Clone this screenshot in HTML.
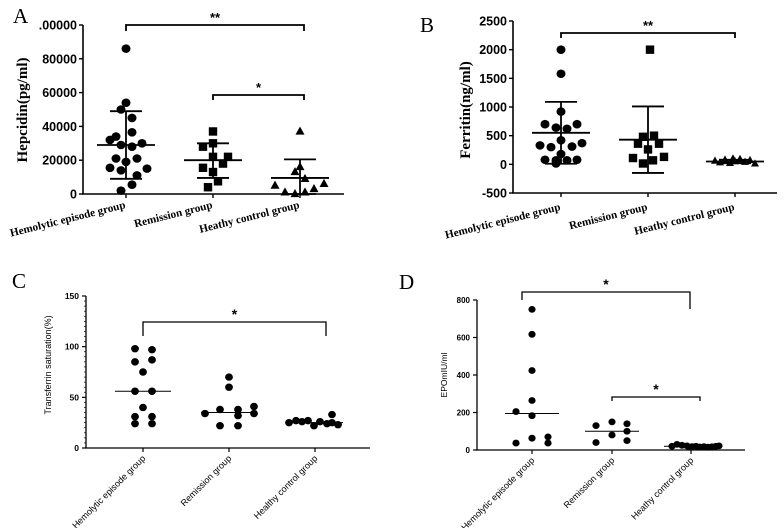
<!DOCTYPE html>
<html><head><meta charset="utf-8"><style>
body{margin:0;background:#fff}
svg{display:block}
.serif{font-family:"Liberation Serif",serif}
.sans{font-family:"Liberation Sans",sans-serif}
</style></head><body>
<svg id="fig" width="783" height="528" viewBox="0 0 783 528" xmlns="http://www.w3.org/2000/svg"></svg>
<script>
const NS='http://www.w3.org/2000/svg';
const svg=document.getElementById('fig');
function el(tag,attrs,parent,text){const e=document.createElementNS(NS,tag);for(const k in attrs)e.setAttribute(k,attrs[k]);if(text!==undefined)e.textContent=text;(parent||svg).appendChild(e);return e;}

// ---- Panel A data ----
const catsA=['Hemolytic episode group','Remission group','Heathy control group'];
const ticksA=[0,20000,40000,60000,80000,100000];
const tickLabelsA=['0','20000','40000','60000','80000','.00000'];
const aHemVals=[86000,54000,50000,45000,36500,32000,34000,29000,28000,30000,21000,21000,19000,15500,14000,15000,11000,5500,2000];
const aHemJit=[0,0,-5,6,6,-16,-10,-5,6,16,-10,11,0,-16,-5,21,11,6,-5];
const aRemVals=[37000,28000,30000,22000,22000,18000,15500,13000,7500,4000];
const aRemJit=[0,-10,0,15,0,10,-10,0,5,-5];
const aHeaVals=[37000,16000,13000,9000,5000,6000,3000,1000,0,1000];
const aHeaJit=[0,0,-5,5,-25,24,14,-15,-5,5];
const aMeans=[29000,20000,9500];
const aSdHi=[49000,30000,20500];
const aSdLo=[9000,9500,0];

// ---- Panel B data ----
const ticksB=[-500,0,500,1000,1500,2000,2500];
const bHemVals=[2000,1580,920,700,700,640,620,420,330,300,310,370,180,80,70,70,80,15];
const bHemJit=[0,0,0,-16,16,-5,6,0,-21,-10,11,21,0,-16,-5,6,16,-5];
const bRemVals=[2000,480,500,360,360,260,110,130,70,15];
const bRemJit=[2,-5,6,-10,11,0,-15,16,5,-5];
const bHeaVals=[60,30,80,20,50,90,40,70,10,100];
const bHeaJit=[-20,-15,-10,-5,0,5,10,15,20,-2];
const bMeans=[550,430,50];
const bSdHi=[1090,1010,80];
const bSdLo=[10,-150,20];

// ---- Panel C data ----
const ticksC=[0,50,100,150];
const cHemVals=[98,97,85,87,75,56,56,40,31,31,24,24];
const cHemJit=[-8,9,-8,9,0,-8,9,0,-8,9,-8,9];
const cRemVals=[70,60,34,38,38,41,32,34,22,22];
const cRemJit=[0,0,-24,-9,9,25,9,25,-9,9];
const cHeaVals=[25,27,26,27,22,26,24,33,25,23];
const cHeaJit=[-26,-19,-13,-7,-1,5,12,17,17,23];
const cMedians=[56,35,25];

// ---- Panel D data ----
const ticksD=[0,200,400,600,800];
const dHemVals=[750,617,424,264,205,183,63,70,37,37];
const dHemJit=[0,0,0,0,-16,0,0,16,-16,16];
const dRemVals=[130,150,140,80,100,40,50];
const dRemJit=[-16,0,15,0,15,-16,15];
const dHeaVals=[20,30,25,22,18,15,20,16,18,15,17,20,22];
const dHeaJit=[-19,-14,-9,-4,1,-2,5,9,13,17,21,25,28];
const dMedians=[195,100,20];

function scale(v0,v1,p0,p1){return v=>p0+(v-v0)*(p1-p0)/(v1-v0);}

function marker(g,shape,x,y,r){
  let m;
  if(shape==='circle'){m=el('ellipse',{cx:x,cy:y,rx:r,ry:r*0.95,fill:'#000'},g);}
  else if(shape==='square'){m=el('rect',{x:x-r,y:y-r,width:2*r,height:2*r,fill:'#000'},g);}
  else {m=el('polygon',{points:`${x},${y-r*1.1} ${x-r},${y+r*0.7} ${x+r},${y+r*0.7}`,fill:'#000'},g);}
  
  
}

function bracket(g,x1,x2,y,l1,l2,label,fs,lw){
  const p=el('path',{d:`M${x1},${y+l1} V${y} H${x2} V${y+l2}`,stroke:'#000','stroke-width':lw,fill:'none'},g);
  
  
  const t=el('text',{x:(x1+x2)/2,y:y-3,'text-anchor':'middle','font-size':fs,'font-weight':'bold',class:'sans'},g,label);
  
  
}

// ===== Panel A =====
(function(){
  const g=el('g',{});
  const y=scale(0,100000,194,25);
  const xs=[126,213,300];
  el('text',{x:13,y:23,'font-size':21,class:'serif',},g,'A');
  el('line',{x1:83,y1:25,x2:83,y2:194.5,stroke:'#000','stroke-width':1.6,},g);
  el('line',{x1:82,y1:194,x2:344,y2:194,stroke:'#000','stroke-width':1.6,},g);
  ticksA.forEach((t,i)=>{
    el('line',{x1:79,x2:83,y1:y(t),y2:y(t),stroke:'#000','stroke-width':1.4},g);
    const tl=el('text',{x:77,y:y(t)+4.5,'text-anchor':'end','font-size':12.5,'font-weight':'bold',class:'sans'},g,tickLabelsA[i]);
    
    
  });
  xs.forEach((x,i)=>{
    el('line',{x1:x,x2:x,y1:194,y2:198,stroke:'#000','stroke-width':1.4},g);
    const tl=el('text',{transform:`translate(${x},${208}) rotate(-14)`,'text-anchor':'end','font-size':11.2,'font-weight':'bold',class:'serif'},g,catsA[i]);
    
    
  });
  el('text',{transform:'translate(27,110) rotate(-90)','text-anchor':'middle','font-size':15,'font-weight':'bold',class:'serif',},g,'Hepcidin(pg/ml)');
  const groups=[[aHemVals,aHemJit,'circle',4.5],[aRemVals,aRemJit,'square',4.2],[aHeaVals,aHeaJit,'tri',4.5]];
  groups.forEach((gr,i)=>{
    gr[0].forEach((v,j)=>marker(g,gr[2],xs[i]+gr[1][j],y(v),gr[3]));
    const m=el('line',{x1:xs[i]-29,x2:xs[i]+29,y1:y(aMeans[i]),y2:y(aMeans[i]),stroke:'#000','stroke-width':1.8},g);
    
    
    el('line',{x1:xs[i],x2:xs[i],y1:y(aSdHi[i]),y2:y(aSdLo[i]),stroke:'#000','stroke-width':1.8},g);
    el('line',{x1:xs[i]-16,x2:xs[i]+16,y1:y(aSdHi[i]),y2:y(aSdHi[i]),stroke:'#000','stroke-width':1.8},g);
    el('line',{x1:xs[i]-16,x2:xs[i]+16,y1:y(aSdLo[i]),y2:y(aSdLo[i]),stroke:'#000','stroke-width':1.8},g);
  });
  bracket(g,126,304,25,6,6,'**',13,1.8);
  bracket(g,213,304,95,5,5,'*',13,1.8);
})();

// ===== Panel B =====
(function(){
  const g=el('g',{});
  const y=scale(-500,2500,193,21);
  const xs=[561,648,735];
  el('text',{x:420,y:32,'font-size':21,class:'serif',},g,'B');
  el('line',{x1:513,y1:21,x2:513,y2:193.5,stroke:'#000','stroke-width':1.6,},g);
  el('line',{x1:512,y1:193,x2:777,y2:193,stroke:'#000','stroke-width':1.6,},g);
  ticksB.forEach(t=>{
    el('line',{x1:509,x2:513,y1:y(t),y2:y(t),stroke:'#000','stroke-width':1.4},g);
    const tl=el('text',{x:507,y:y(t)+4.5,'text-anchor':'end','font-size':12.5,'font-weight':'bold',class:'sans'},g,String(t));
    
    
  });
  xs.forEach((x,i)=>{
    el('line',{x1:x,x2:x,y1:193,y2:197,stroke:'#000','stroke-width':1.4},g);
    const tl=el('text',{transform:`translate(${x},${210}) rotate(-14)`,'text-anchor':'end','font-size':11.2,'font-weight':'bold',class:'serif'},g,catsA[i]);
    
    
  });
  el('text',{transform:'translate(470,110) rotate(-90)','text-anchor':'middle','font-size':15,'font-weight':'bold',class:'serif',},g,'Ferritin(ng/ml)');
  const groups=[[bHemVals,bHemJit,'circle',4.5],[bRemVals,bRemJit,'square',4.2],[bHeaVals,bHeaJit,'tri',4]];
  groups.forEach((gr,i)=>{
    gr[0].forEach((v,j)=>marker(g,gr[2],xs[i]+gr[1][j],y(v),gr[3]));
    const m=el('line',{x1:xs[i]-29,x2:xs[i]+29,y1:y(bMeans[i]),y2:y(bMeans[i]),stroke:'#000','stroke-width':1.8},g);
    
    
    el('line',{x1:xs[i],x2:xs[i],y1:y(bSdHi[i]),y2:y(bSdLo[i]),stroke:'#000','stroke-width':1.8},g);
    el('line',{x1:xs[i]-16,x2:xs[i]+16,y1:y(bSdHi[i]),y2:y(bSdHi[i]),stroke:'#000','stroke-width':1.8},g);
    el('line',{x1:xs[i]-16,x2:xs[i]+16,y1:y(bSdLo[i]),y2:y(bSdLo[i]),stroke:'#000','stroke-width':1.8},g);
  });
  bracket(g,561,735,33,5,5,'**',13,1.8);
})();

const catsCD=['Hemolytic episode group','Remission group','Healthy control group'];
const catsD=['Hemolytic episode group','Remission group','Heathy control group'];

// ===== Panel C =====
(function(){
  const g=el('g',{});
  const y=scale(0,150,448,296);
  const xs=[143,229,315];
  el('text',{x:12,y:288,'font-size':21,class:'serif',},g,'C');
  el('line',{x1:86,y1:296,x2:86,y2:448.5,stroke:'#000','stroke-width':1.3,},g);
  el('line',{x1:85,y1:448,x2:370,y2:448,stroke:'#000','stroke-width':1.3,},g);
  for(let v=0;v<=150;v+=5){el('line',{x1:v%50===0?82:84,x2:86,y1:y(v),y2:y(v),stroke:'#000','stroke-width':v%50===0?1.2:0.7},g);}
  ticksC.forEach(t=>{
    const tl=el('text',{x:79,y:y(t)+3,'text-anchor':'end','font-size':8.5,'font-weight':'bold',class:'sans'},g,String(t));
    
    
  });
  xs.forEach((x,i)=>{
    el('line',{x1:x,x2:x,y1:448,y2:452,stroke:'#000','stroke-width':1.2},g);
    const tl=el('text',{transform:`translate(${x+3},${459}) rotate(-45)`,'text-anchor':'end','font-size':9,class:'sans'},g,catsCD[i]);
    
    
  });
  el('text',{transform:'translate(51,365) rotate(-90)','text-anchor':'middle','font-size':9,class:'sans',},g,'Transferrin saturation(%)');
  const groups=[[cHemVals,cHemJit],[cRemVals,cRemJit],[cHeaVals,cHeaJit]];
  groups.forEach((gr,i)=>{
    gr[0].forEach((v,j)=>marker(g,'circle',xs[i]+gr[1][j],y(v),3.9));
    const m=el('line',{x1:xs[i]-28,x2:xs[i]+28,y1:y(cMedians[i]),y2:y(cMedians[i]),stroke:'#000','stroke-width':1},g);
    
    
  });
  bracket(g,143,326,322,14,14,'*',14,1.3);
})();

// ===== Panel D =====
(function(){
  const g=el('g',{});
  const y=scale(0,800,450,300);
  const xs=[532,612,691];
  el('text',{x:399,y:289,'font-size':21,class:'serif',},g,'D');
  el('line',{x1:477,y1:300,x2:477,y2:450.5,stroke:'#000','stroke-width':1.3,},g);
  el('line',{x1:476,y1:450,x2:745,y2:450,stroke:'#000','stroke-width':1.3,},g);
  ticksD.forEach(t=>{
    el('line',{x1:473,x2:477,y1:y(t),y2:y(t),stroke:'#000','stroke-width':1.2},g);
    const tl=el('text',{x:470,y:y(t)+3,'text-anchor':'end','font-size':8,'font-weight':'bold',class:'sans'},g,String(t));
    
    
  });
  xs.forEach((x,i)=>{
    el('line',{x1:x,x2:x,y1:450,y2:454,stroke:'#000','stroke-width':1.2},g);
    const tl=el('text',{transform:`translate(${x+3},${461}) rotate(-45)`,'text-anchor':'end','font-size':9,class:'sans'},g,catsD[i]);
    
    
  });
  el('text',{transform:'translate(447,375) rotate(-90)','text-anchor':'middle','font-size':8.5,class:'sans',},g,'EPOmIU/ml');
  const groups=[[dHemVals,dHemJit],[dRemVals,dRemJit],[dHeaVals,dHeaJit]];
  groups.forEach((gr,i)=>{
    gr[0].forEach((v,j)=>marker(g,'circle',xs[i]+gr[1][j],y(v),3.6));
    const m=el('line',{x1:xs[i]-27,x2:xs[i]+27,y1:y(dMedians[i]),y2:y(dMedians[i]),stroke:'#000','stroke-width':1},g);
    
    
  });
  bracket(g,522,690,292,8,17,'*',14,1.3);
  bracket(g,612,700,397,4,4,'*',14,1.3);
})();
</script>
</body></html>
